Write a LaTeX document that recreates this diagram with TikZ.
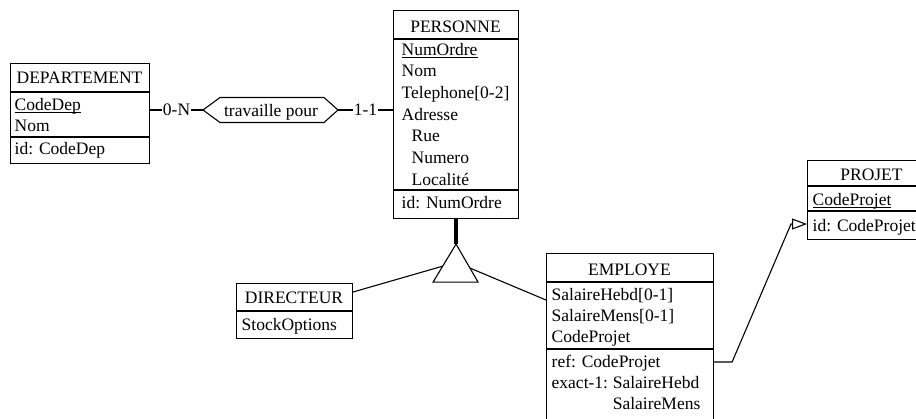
\documentclass[tikz,border=0pt]{standalone}
\usepackage{fontspec}
\setmainfont{Liberation Serif}
\usetikzlibrary{arrows.meta,calc}
\newcommand\keyul[1]{\setbox0\hbox{#1}\rlap{\rule[-2.4pt]{\wd0}{0.9pt}}\box0}
\begin{document}
\begin{tikzpicture}[x=1pt,y=-1pt,
  every node/.style={font=\fontsize{17.5}{21.67}\selectfont},
  box/.style={draw,line width=1.1pt,rectangle,inner sep=0pt,anchor=north west},
  sep/.style={line width=1.1pt},
  row/.style={anchor=base west,inner sep=0pt},
  ttl/.style={anchor=base,inner sep=0pt},
  link/.style={line width=1.1pt},
  card/.style={fill=white,inner xsep=0.5pt,inner ysep=1pt}]
\useasboundingbox[fill=white] (0,0) rectangle (916,418);

% DEPARTEMENT
\node[box,minimum width=139pt,minimum height=100pt] (dep) at (10,63) {};
\draw[sep] ([yshift=-29pt]dep.north west) -- ([yshift=-29pt]dep.north east);
\draw[sep] ([yshift=-74pt]dep.north west) -- ([yshift=-74pt]dep.north east);
\node[ttl] (depT) at (79.5,83.3) {DEPARTEMENT};
\node[row] (depA) at (14.5,110) {\keyul{CodeDep}};
\node[row] (depB) at (14.5,131.7) {Nom};
\node[row] (depI) at (14.5,154) {id: CodeDep};

% PERSONNE
\node[box,minimum width=125pt,minimum height=208pt] (pers) at (393,10) {};
\draw[sep] ([yshift=-29pt]pers.north west) -- ([yshift=-29pt]pers.north east);
\draw[sep] ([yshift=-180pt]pers.north west) -- ([yshift=-180pt]pers.north east);
\node[ttl] (persT) at (455.5,32.3) {PERSONNE};
\node[row] (p1) at (401.5,55) {\keyul{NumOrdre}};
\node[row] (p2) at (401.5,76.7) {Nom};
\node[row] (p3) at (401.5,98.3) {Telephone[0-2]};
\node[row] (p4) at (401.5,120) {Adresse};
\node[row] (p5) at (411.5,141.7) {Rue};
\node[row] (p6) at (411.5,163.3) {Numero};
\node[row] (p7) at (411.5,185) {Localité};
\node[row] (pI) at (401.5,208.3) {id: NumOrdre};

% relationship
\node[inner sep=0pt,anchor=base] (rel) at (271,116.7) {travaille pour};
\coordinate (hexW) at (203,110);
\coordinate (hexE) at (338,110);
\draw[link] (hexW) -- (220,97.5) -- (324,97.5) -- (hexE) -- (324,122.5) -- (220,122.5) -- cycle;
\draw[link] (hexW -| dep.east) -- node[card] (c0N) {0-N} (hexW);
\draw[link] (hexE) -- node[card] (c11) {1-1} (hexE -| pers.west);

% DIRECTEUR
\node[box,minimum width=116pt,minimum height=55pt] (dir) at (236,283) {};
\draw[sep] ([yshift=-28pt]dir.north west) -- ([yshift=-28pt]dir.north east);
\node[ttl] (dirT) at (294,303.3) {DIRECTEUR};
\node[row] (d1) at (241.5,330) {StockOptions};

% EMPLOYE
\node[box,minimum width=167pt,minimum height=175pt] (emp) at (546,253) {};
\draw[sep] ([yshift=-29pt]emp.north west) -- ([yshift=-29pt]emp.north east);
\draw[sep] ([yshift=-96pt]emp.north west) -- ([yshift=-96pt]emp.north east);
\node[ttl] (empT) at (629.5,275) {EMPLOYE};
\node[row] (e1) at (551.5,300.3) {SalaireHebd[0-1]};
\node[row] (e2) at (551.5,321.5) {SalaireMens[0-1]};
\node[row] (e3) at (551.5,342.7) {CodeProjet};
\node[row] (eR) at (551.5,367.3) {ref: CodeProjet};
\node[row] (eX) at (551.5,388.3) {exact-1:};
\node[row] (eXa) at ([xshift=4.4pt]eX.base east) {SalaireHebd};
\node[row] (eXb) at ([yshift=-21pt]eXa.base west) {SalaireMens};

% PROJET
\node[box,minimum width=129pt,minimum height=79pt] (proj) at (807,160) {};
\draw[sep] ([yshift=-26pt]proj.north west) -- ([yshift=-26pt]proj.north east);
\draw[sep] ([yshift=-51pt]proj.north west) -- ([yshift=-51pt]proj.north east);
\node[ttl] (projT) at (871.5,180.7) {PROJET};
\node[row] (j1) at (812.5,205.7) {\keyul{CodeProjet}};
\node[row] (jI) at (812.5,231.7) {id: CodeProjet};

% ISA triangle
\coordinate (apex) at ($(pers.south)+(0,25)$);
\coordinate (tbl) at ($(apex)+(-23,38)$);
\coordinate (tbr) at ($(apex)+(22,38)$);
\draw[line width=4.5pt] (pers.south) -- (apex);
\draw[link,line join=miter] (apex) -- (tbl) -- (tbr) -- cycle;
\draw[link] ([yshift=-9pt]dir.north east) -- ($(apex)!0.58!(tbl)$);
\draw[link] ($(apex)!0.63!(tbr)$) -- ([yshift=-47pt]emp.north west);

% reference arrow
\coordinate (refS) at (emp.east |- 0,362);
\coordinate (refT) at (proj.west |- 0,224);
\draw[link,-{Triangle[open,length=15pt,width=11pt,line width=1.1pt]}] (refS) -- ++(18,0) -- ([xshift=-16pt]refT) -- (refT);
\end{tikzpicture}
\end{document}
